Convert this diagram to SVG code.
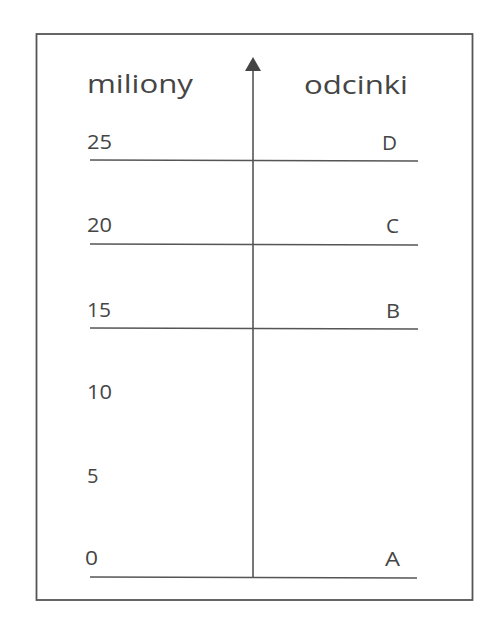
<svg xmlns="http://www.w3.org/2000/svg" width="496" height="623" viewBox="0 0 496 623">
<style>
.t{font-family:"Open Sans","Liberation Sans",sans-serif;fill:#454545}
.h{font-size:25px}
.n{font-size:20px}
.ln{stroke:#555;stroke-width:1.6;fill:none}
</style>
<rect width="496" height="623" fill="#fff"/>
<rect x="36.5" y="34" width="436" height="566" fill="none" stroke="#555" stroke-width="1.8"/>
<g id="connectors">
<line class="ln" x1="253" y1="578" x2="253" y2="70"/>
<path d="M253,57 L261,71 L245,71 z" fill="#444"/>
<line class="ln" x1="90" y1="160" x2="418" y2="161"/>
<line class="ln" x1="90" y1="244" x2="418" y2="245"/>
<line class="ln" x1="90" y1="328" x2="418" y2="329"/>
<line class="ln" x1="90" y1="577" x2="417" y2="578"/>
</g>
<g id="headers">
<text class="t h" x="87" y="93" textLength="106" lengthAdjust="spacingAndGlyphs">miliony</text>
<text class="t h" x="304" y="94" textLength="104" lengthAdjust="spacingAndGlyphs">odcinki</text>
</g>
<g id="scale">
<text class="t n" x="87" y="149" textLength="25" lengthAdjust="spacingAndGlyphs">25</text>
<text class="t n" x="87" y="232" textLength="25" lengthAdjust="spacingAndGlyphs">20</text>
<text class="t n" x="87" y="317" textLength="24" lengthAdjust="spacingAndGlyphs">15</text>
<text class="t n" x="87" y="399" textLength="25" lengthAdjust="spacingAndGlyphs">10</text>
<text class="t n" x="87" y="483">5</text>
<text class="t n" x="85" y="565" textLength="13" lengthAdjust="spacingAndGlyphs">0</text>
</g>
<g id="segments">
<text class="t n" x="382" y="150" textLength="15" lengthAdjust="spacingAndGlyphs">D</text>
<text class="t n" x="386" y="233" textLength="13" lengthAdjust="spacingAndGlyphs">C</text>
<text class="t n" x="386" y="318" textLength="14" lengthAdjust="spacingAndGlyphs">B</text>
<text class="t n" x="385" y="566" textLength="15" lengthAdjust="spacingAndGlyphs">A</text>
</g>
</svg>
